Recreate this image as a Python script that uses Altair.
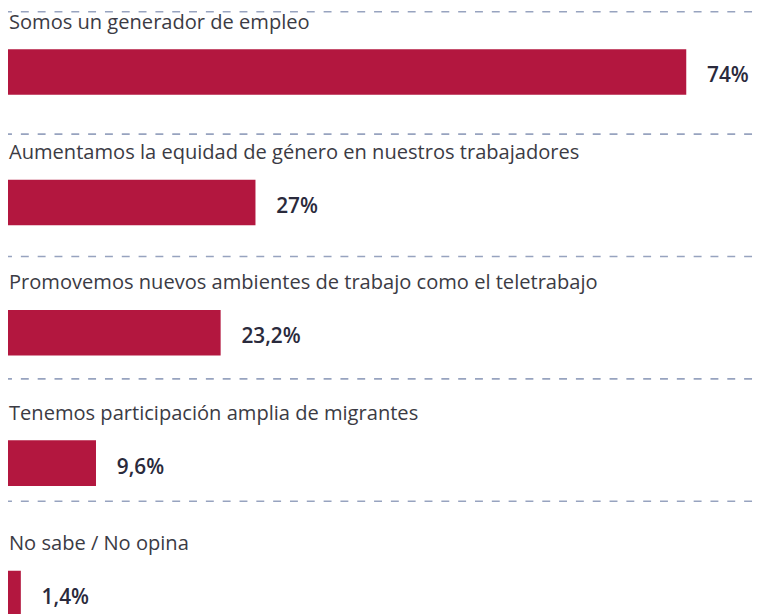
import altair as alt
import pandas as pd

categories = [
    "Somos un generador de empleo",
    "Aumentamos la equidad de género en nuestros trabajadores",
    "Promovemos nuevos ambientes de trabajo como el teletrabajo",
    "Tenemos participación amplia de migrantes",
    "No sabe / No opina",
]
values = [74, 27, 23.2, 9.6, 1.4]
value_labels = ["74%", "27%", "23,2%", "9,6%", "1,4%"]

df = pd.DataFrame({"cat": categories, "val": values, "lab": value_labels})

W, H = 755, 606
BAR_COLOR = "#b3173f"
LABEL_COLOR = "#3b3b44"
VALUE_COLOR = "#2a2a3c"
DASH_COLOR = "#97a3bf"
FONT = "Open Sans"

y_rows = alt.Y(
    "cat:N", sort=categories, axis=None,
    scale=alt.Scale(range=[-4.4, 654.4], paddingInner=0, paddingOuter=0),
)
x_val = alt.X("val:Q", axis=None, scale=alt.Scale(domain=[0, 81.5], nice=False))

rules = alt.Chart(df).mark_rule(
    strokeDash=[8, 9], strokeDashOffset=4, color=DASH_COLOR, strokeWidth=1.6
).encode(
    y=alt.Y(
        "cat:N", sort=categories, axis=None, bandPosition=0,
        scale=alt.Scale(range=[0.5, 619], paddingInner=0, paddingOuter=0),
    ),
    x=alt.value(0),
    x2=alt.value(753),
)

bars = alt.Chart(df).mark_bar(height=46, color=BAR_COLOR).encode(x=x_val, y=y_rows)

labels = alt.Chart(df).mark_text(
    align="left", baseline="alphabetic", font=FONT, fontSize=20.3,
    color=LABEL_COLOR, yOffset=-44,
).encode(x=alt.value(1), y=y_rows, text="cat:N")

vals = alt.Chart(df).mark_text(
    align="left", baseline="alphabetic", font=FONT, fontSize=21, fontWeight=600,
    color=VALUE_COLOR, dx=21, yOffset=10.5,
).encode(x=x_val, y=y_rows, text="lab:N")

chart = (
    alt.layer(rules, bars, labels, vals)
    .resolve_scale(y="independent")
    .properties(width=W, height=H, autosize="none", padding=0)
    .configure_view(stroke=None)
)

chart.save("out.html", embed_options={"renderer": "svg", "actions": False})
